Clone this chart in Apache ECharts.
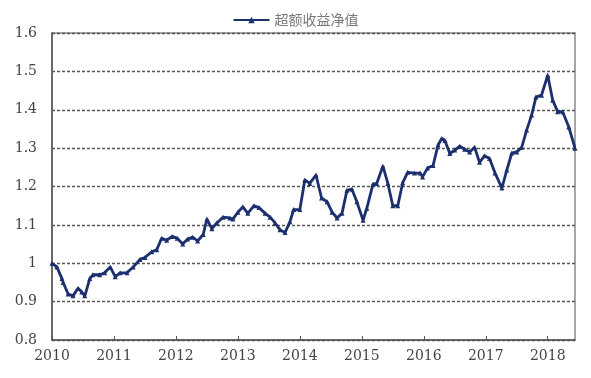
<!DOCTYPE html>
<html>
<head>
<meta charset="utf-8">
<script src="https://cdn.jsdelivr.net/npm/echarts@6/dist/echarts.min.js"></script>
<style>
  html, body { margin: 0; padding: 0; background: #fff; }
  #main { width: 591px; height: 378px; }
</style>
</head>
<body>
<div id="main"></div>
<script>
// time as decimal year, value = excess-return NAV
const years = [
  2010.00, 2010.08, 2010.16, 2010.18, 2010.26, 2010.34, 2010.42, 2010.48, 2010.53, 2010.61,
  2010.66, 2010.77, 2010.85, 2010.94, 2011.02, 2011.10, 2011.21, 2011.31, 2011.42, 2011.50,
  2011.61, 2011.69, 2011.77, 2011.85, 2011.94, 2012.02, 2012.11, 2012.19, 2012.27, 2012.35,
  2012.44, 2012.50, 2012.58, 2012.66, 2012.76, 2012.87, 2012.92, 2013.00, 2013.08, 2013.16,
  2013.26, 2013.34, 2013.44, 2013.52, 2013.60, 2013.68, 2013.76, 2013.84, 2013.90, 2014.00,
  2014.08, 2014.16, 2014.26, 2014.35, 2014.44, 2014.52, 2014.60, 2014.68, 2014.76, 2014.84,
  2014.92, 2015.02, 2015.08, 2015.18, 2015.24, 2015.34, 2015.42, 2015.50, 2015.58, 2015.66,
  2015.74, 2015.85, 2015.94, 2015.98, 2016.06, 2016.15, 2016.23, 2016.29, 2016.34, 2016.42,
  2016.50, 2016.58, 2016.66, 2016.74, 2016.82, 2016.90, 2016.98, 2017.06, 2017.15, 2017.26,
  2017.34, 2017.42, 2017.50, 2017.58, 2017.66, 2017.74, 2017.81, 2017.90, 2018.00, 2018.08,
  2018.16, 2018.24, 2018.34, 2018.44
];
const nav = [
  1.000, 0.990, 0.960, 0.950, 0.920, 0.915, 0.935, 0.925, 0.915, 0.960,
  0.970, 0.970, 0.975, 0.990, 0.965, 0.975, 0.975, 0.990, 1.010, 1.015,
  1.030, 1.035, 1.065, 1.060, 1.070, 1.065, 1.050, 1.063, 1.068, 1.058,
  1.075, 1.115, 1.090, 1.105, 1.120, 1.118, 1.115, 1.133, 1.147, 1.130,
  1.150, 1.145, 1.130, 1.120, 1.105, 1.087, 1.080, 1.108, 1.140, 1.140,
  1.217, 1.208, 1.230, 1.170, 1.160, 1.133, 1.118, 1.130, 1.190, 1.193,
  1.160, 1.112, 1.143, 1.206, 1.208, 1.253, 1.208, 1.150, 1.150, 1.210,
  1.237, 1.235, 1.235, 1.225, 1.248, 1.255, 1.308, 1.325, 1.320, 1.286,
  1.295, 1.305, 1.297, 1.290, 1.302, 1.263, 1.280, 1.273, 1.235, 1.196,
  1.243, 1.287, 1.290, 1.302, 1.347, 1.386, 1.433, 1.438, 1.490, 1.425,
  1.395, 1.395, 1.355, 1.300
];
const seriesName = '超额收益净值';

const lineColor = '#1c2f6e';
const chart = echarts.init(document.getElementById('main'));
chart.setOption({
  animation: false,
  legend: {
    top: 8,
    left: 'center',
    itemWidth: 36,
    itemHeight: 8,
    textStyle: { color: '#777', fontSize: 14, fontFamily: 'Noto Sans CJK SC' },
    data: [seriesName]
  },
  grid: {
    left: 52, right: 16, top: 33, bottom: 38,
    show: true, borderColor: '#8a8a8a', borderWidth: 1.5
  },
  xAxis: {
    type: 'value',
    min: 2010,
    max: 2018.44,
    interval: 1,
    axisLine: { lineStyle: { color: '#555', width: 1.5 } },
    axisTick: { inside: true, length: 4, lineStyle: { color: '#555' } },
    axisLabel: {
      color: '#444', fontSize: 14, fontFamily: 'DejaVu Serif',
      margin: 9, showMaxLabel: false,
      formatter: v => String(Math.round(v))
    },
    splitLine: { show: false }
  },
  yAxis: {
    type: 'value',
    min: 0.8,
    max: 1.6,
    interval: 0.1,
    axisLine: { show: true, lineStyle: { color: '#555', width: 1.5 } },
    axisTick: { show: false },
    axisLabel: {
      color: '#444', fontSize: 14, fontFamily: 'DejaVu Serif', margin: 15,
      formatter: v => String(+v.toFixed(1))
    },
    splitLine: { lineStyle: { color: '#555', type: [3, 2], width: 1.3 } }
  },
  series: [{
    name: seriesName,
    type: 'line',
    data: years.map((y, i) => [y, nav[i]]),
    symbol: 'triangle',
    symbolSize: 5,
    lineStyle: { color: lineColor, width: 2.8 },
    itemStyle: { color: lineColor }
  }]
});
</script>
</body>
</html>
